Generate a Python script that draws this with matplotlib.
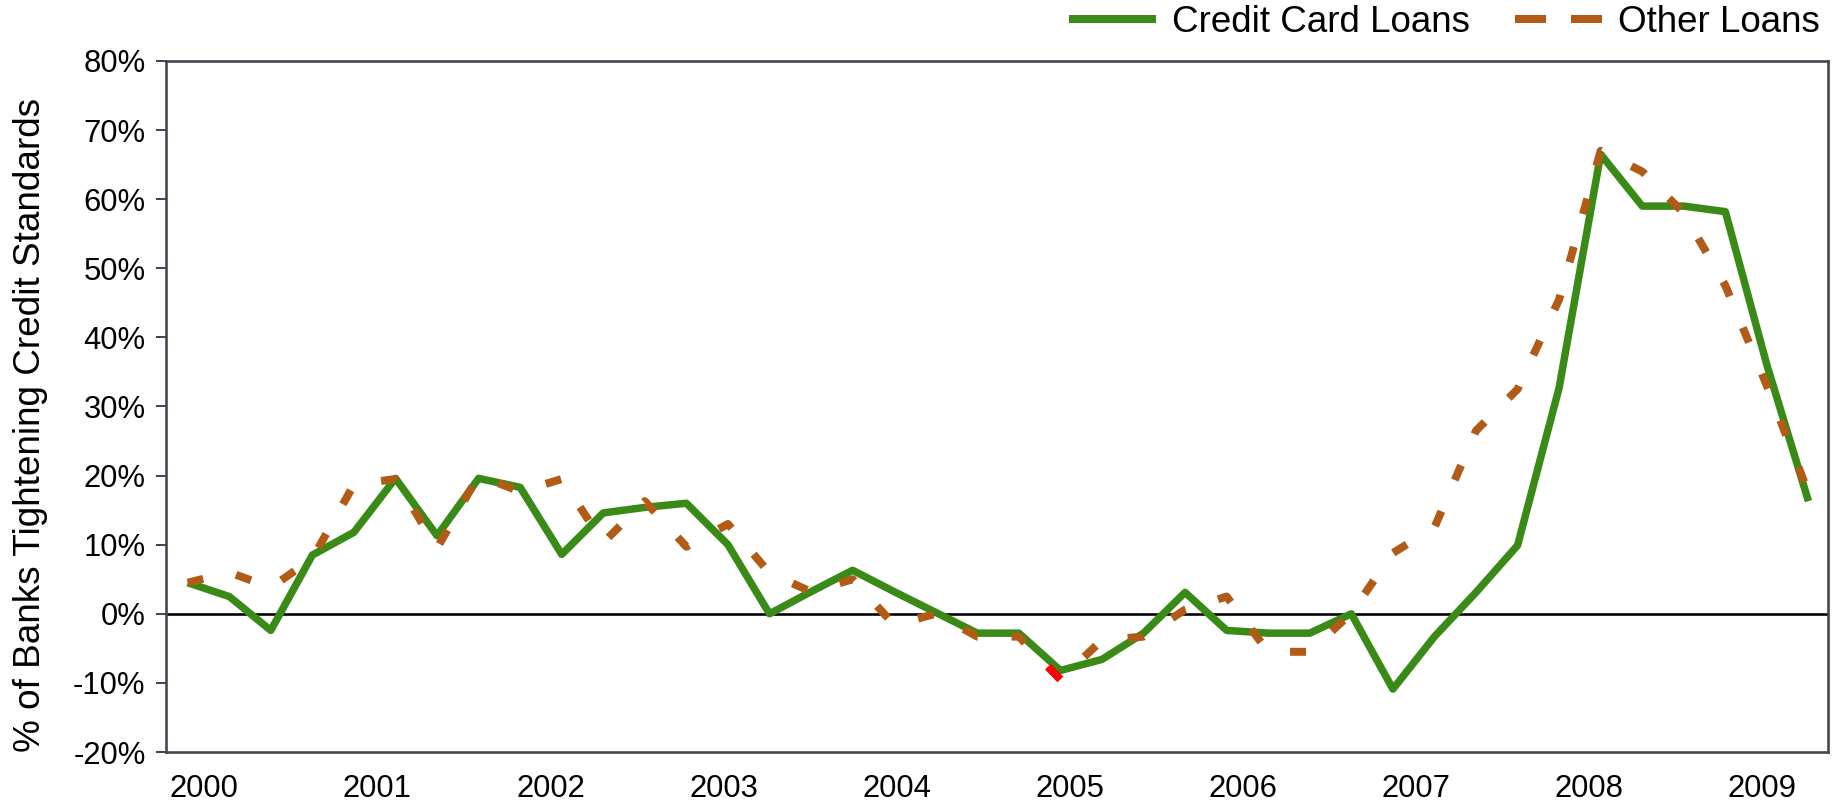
import numpy as np
import matplotlib
matplotlib.use("Agg")
import matplotlib.pyplot as plt
from matplotlib.lines import Line2D

# Survey rounds, in order (one point per survey)
survey = np.arange(40)

credit_card_loans = [
    4.5, 2.5, -2.4, 8.5, 11.8, 19.6, 11.3, 19.6, 18.3, 8.6,
    14.6, 15.4, 16.0, 10.0, 0.0, 3.2, 6.3, 3.2, 0.2, -2.8,
    -2.8, -8.2, -6.6, -2.8, 3.1, -2.4, -2.8, -2.8, 0.0, -10.9,
    -3.3, 3.1, 9.9, 32.7, 66.5, 59.0, 59.0, 58.2, 36.0, 16.3,
]

other_loans = [
    4.5, 6.0, 3.8, 8.0, 18.7, 19.5, 9.5, 20.0, 17.7, 19.5,
    10.3, 16.3, 9.7, 13.0, 5.9, 3.2, 5.0, -1.6, 0.0, -3.3,
    -3.3, -9.5, -3.8, -3.3, 0.6, 2.5, -5.5, -5.5, 0.1, 8.8,
    12.5, 26.5, 32.5, 45.5, 67.0, 64.0, 58.0, 47.5, 33.0, 17.5,
]

years = ["2000", "2001", "2002", "2003", "2004",
         "2005", "2006", "2007", "2008", "2009"]
y_ticks = list(range(-20, 81, 10))

# segment of the "Other Loans" series drawn in red
highlight_segment = (20, 21)

# ---- layout / style ----
W, H, DPI = 1843, 810, 100
PX = 72.0 / DPI  # points per pixel

GREEN = "#3A8A17"
ORANGE = "#B15B16"
FRAME = "#4A4250"

plt.rcParams["font.family"] = ["Liberation Sans", "DejaVu Sans"]

fig = plt.figure(figsize=(W / DPI, H / DPI), dpi=DPI)
fig.patch.set_facecolor("white")

left, right, top, bottom = 166, 1828, 61, 752
ax = fig.add_axes([left / W, 1 - bottom / H, (right - left) / W, (bottom - top) / H])

ax.axhline(0, color="black", lw=2.6 * PX, zorder=2)

ax.plot(survey, credit_card_loans, color=GREEN, lw=7.5 * PX,
        solid_joinstyle="round", solid_capstyle="butt", zorder=3)

other_line, = ax.plot(survey, other_loans, color=ORANGE, lw=8 * PX,
                      dash_capstyle="butt", dash_joinstyle="round", zorder=4)
other_line.set_dashes([2.0, 4.25])

# red piece at the end of the highlighted segment
s0, s1 = highlight_segment
seg_x = np.linspace(s0 + 0.70 * (s1 - s0), s1, 6)
ax.plot(seg_x, np.interp(seg_x, survey, other_loans), color="red",
        lw=8 * PX, solid_capstyle="butt", zorder=5)

ax.set_xlim(-0.522, 39.47)
ax.set_ylim(-20, 80)

year_pos = 0.40 + 4.165 * np.arange(len(years))
ax.set_xticks(year_pos)
ax.set_xticklabels(years)
ax.set_yticks(y_ticks)
ax.set_yticklabels([f"{v}%" for v in y_ticks])

ax.tick_params(axis="x", length=0, pad=15.5, labelsize=22.3)
ax.tick_params(axis="y", length=10 * PX, width=2 * PX, color=FRAME,
               pad=7.5, labelsize=22.3)

for sp in ax.spines.values():
    sp.set_color(FRAME)
    sp.set_linewidth(2.6 * PX)

fig.text(31 / W, 1 - 425 / H, "% of Banks Tightening Credit Standards",
         rotation=90, ha="center", va="center", fontsize=26.6)

handles = [
    Line2D([], [], color=GREEN, lw=8 * PX, solid_capstyle="butt"),
    Line2D([], [], color=ORANGE, lw=8 * PX, dash_capstyle="butt",
           dashes=[31 / 8, 25 / 8]),
]
fig.legend(handles, ["Credit Card Loans", "Other Loans"], ncol=2,
           loc="center right", bbox_to_anchor=(1820 / W, 1 - 22 / H),
           frameon=False, fontsize=26.5, handlelength=2.36,
           handletextpad=0.435, columnspacing=1.22, borderpad=0,
           borderaxespad=0)

fig.savefig("out.png", dpi=DPI)
